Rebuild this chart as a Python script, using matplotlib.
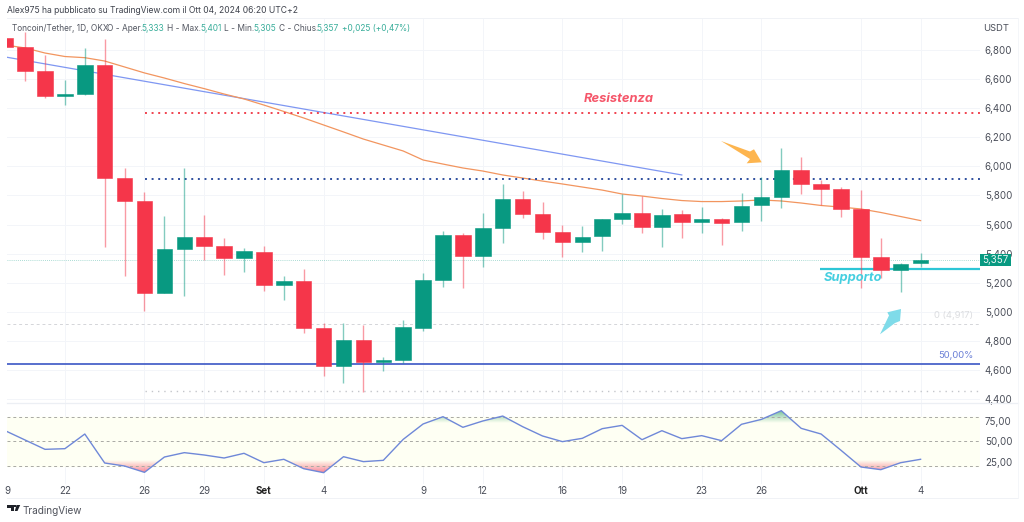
from matplotlib import pyplot as plt
from matplotlib.path import Path
from matplotlib.patches import Polygon, Rectangle
import numpy as np

plt.rcParams['font.family'] = ['Inter', 'DejaVu Sans']

# daily candles, index 0 = 19 Aug
opens = [6883, 6824, 6658, 6486, 6498, 6698, 5920, 5764, 5127, 5431, 5516, 5452, 5367, 5413, 5182, 5213,
         4886, 4626, 4805, 4654, 4665, 4890, 5216, 5526, 5383, 5578, 5773, 5670, 5548, 5480, 5519, 5638,
         5679, 5581, 5672, 5617, 5638, 5615, 5732, 5787, 5975, 5879, 5842, 5705, 5374, 5287, 5333]
highs = [6890, 6925, 6766, 6594, 6815, 6879, 5989, 5826, 5658, 5989, 5665, 5509, 5436, 5452, 5246, 5294,
         4920, 4920, 4908, 4686, 4943, 5264, 5557, 5544, 5681, 5879, 5833, 5753, 5597, 5590, 5640, 5810,
         5796, 5705, 5700, 5718, 5647, 5815, 5929, 6124, 6062, 5906, 5860, 5837, 5505, 5333, 5401]
lows = [6822, 6588, 6471, 6422, 6491, 5447, 5246, 5007, 5127, 5110, 5356, 5254, 5275, 5144, 5080, 4855,
        4559, 4511, 4445, 4590, 4645, 4867, 5168, 5161, 5310, 5475, 5643, 5502, 5374, 5409, 5418, 5603,
        5543, 5443, 5505, 5543, 5459, 5553, 5626, 5711, 5810, 5732, 5654, 5161, 5230, 5133, 5305]
closes = [6822, 6656, 6486, 6498, 6698, 5920, 5764, 5127, 5431, 5516, 5452, 5367, 5418, 5182, 5213, 4886,
          4626, 4805, 4656, 4668, 4893, 5216, 5526, 5383, 5578, 5773, 5670, 5548, 5482, 5516, 5636, 5679,
          5581, 5667, 5615, 5638, 5612, 5729, 5787, 5975, 5879, 5842, 5707, 5374, 5287, 5328, 5357]

ema = [6835, 6815, 6780, 6756, 6748, 6725, 6684, 6643, 6608, 6570, 6535, 6498, 6464, 6422, 6378, 6333,
       6285, 6237, 6188, 6147, 6106, 6044, 6016, 5989, 5968, 5941, 5920, 5899, 5879, 5858, 5837, 5810,
       5796, 5779, 5765, 5758, 5758, 5762, 5769, 5762, 5748, 5731, 5720, 5707, 5683, 5655, 5627]
trend_x = [0, 34]
trend_y = [6753, 5941]

rsi = [63.1, 51.6, 40.1, 40.9, 59, 23.2, 19.5, 11.7, 30.6, 36, 33.1, 29.4, 35.2, 23.6, 27.8, 16.2,
       11.3, 31, 24.9, 26.5, 52.4, 71.4, 80.4, 67.3, 75.1, 81.2, 68.1, 56.6, 49.6, 53.7, 65.6, 69.7,
       52, 63.1, 53.3, 57, 50.8, 71, 77.1, 87.8, 66, 59, 38.9, 18.3, 15, 23.6, 27.8]

resistance = 6367
blue_dotted = 5915
fib_50 = 4642
fib_0 = 4917
low_dotted = 4454
support = 5296
last_price = 5357

day_ticks = [0, 3, 7, 10, 13, 16, 21, 24, 28, 31, 35, 38, 43, 46]
day_labels = ['9', '22', '26', '29', 'Set', '4', '9', '12', '16', '19', '23', '26', 'Ott', '4']
price_ticks = [4400, 4600, 4800, 5000, 5200, 5400, 5600, 5800, 6000, 6200, 6400, 6600, 6800]
rsi_ticks = [25, 50, 75]

W, H = 1024, 522
GREEN = '#089981'
RED = '#f5364a'
TXT = '#4a4e59'
GRID = '#f3f5f9'


def px_to_i(px):
    return (px - 5.2) / 19.9


def pane(left, top, right, bottom):
    return [left / W, 1 - bottom / H, (right - left) / W, (bottom - top) / H]


fig = plt.figure(figsize=(W / 100, H / 100), dpi=100)
ax = fig.add_axes(pane(6.6, 18, 980, 403))
ax2 = fig.add_axes(pane(6.6, 403, 980, 484))
over = fig.add_axes([0, 0, 1, 1], zorder=10)
over.set_xlim(0, W)
over.set_ylim(H, 0)
over.axis('off')

x = np.arange(len(opens))
xlim = (px_to_i(6.6), px_to_i(980))

# price pane
for a in (ax, ax2):
    for s in a.spines.values():
        s.set_visible(False)
    a.yaxis.tick_right()
    a.set_xticks([])
    a.tick_params(axis='y', length=0, pad=3.5, labelsize=7, labelcolor=TXT)
    for d in day_ticks:
        a.axvline(d, color=GRID, lw=0.7, zorder=0)

for p in price_ticks:
    ax.axhline(p, color=GRID, lw=0.7, zorder=0)

x0 = px_to_i(145)
ax.plot(trend_x, trend_y, color='#7f97f2', lw=0.9, zorder=1)
ax.plot(x, ema, color='#f2955f', lw=0.9, zorder=1)
ax.hlines(resistance, x0, xlim[1], color='#f0424f', lw=1.4, linestyles=(0, (1, 2.4)), zorder=1)
ax.hlines(blue_dotted, x0, xlim[1], color='#2f4f9e', lw=1.4, linestyles=(0, (1, 2.4)), zorder=1)
ax.hlines(low_dotted, x0, xlim[1], color='#c4c6cb', lw=1.0, linestyles=(0, (1, 3.5)), zorder=1)
ax.hlines(fib_0, xlim[0], xlim[1], color='#d4d5d9', lw=0.7, linestyles=(0, (3, 3)), zorder=1)
ax.hlines(fib_50, xlim[0], xlim[1], color='#4a63c9', lw=1.3, zorder=1)
ax.hlines(support, px_to_i(820), xlim[1], color='#2cc6d6', lw=1.6, zorder=1)
ax.hlines(last_price, xlim[0], xlim[1], color=GREEN, alpha=0.45, lw=0.6, linestyles=(0, (1, 1.5)), zorder=1)

colors = [GREEN if c >= o else RED for o, c in zip(opens, closes)]
ax.vlines(x, lows, highs, colors=colors, alpha=0.5, lw=1.0, zorder=2)
body_low = np.minimum(opens, closes)
body_h = np.abs(np.array(closes) - np.array(opens))
ax.bar(x, body_h, bottom=body_low, width=0.78, color=colors, edgecolor=colors, lw=0.4, zorder=3)

ax.set_xlim(xlim)
ax.set_ylim(4372, 7021)
ax.set_yticks(price_ticks)
ax.set_yticklabels([f'{p / 1000:.3f}'.replace('.', ',') for p in price_ticks])

# rsi pane
ax2.axhspan(20, 80, color='#feFFf3', zorder=0)
for lev in (80, 50, 20):
    ax2.axhline(lev, color='#a9a9a4', lw=0.7, ls=(0, (3, 3)), zorder=2)


def gradient(level, rgb, v_from, v_to, where):
    # fades between v_from (clear) and v_to (strong), cut to the area between line and level
    poly = ax2.fill_between(x, rsi, level, where=where, interpolate=True, color='none', lw=0)
    clip = Path.make_compound_path(*poly.get_paths())
    ramp = np.zeros((64, 1, 4))
    ramp[..., :3] = rgb
    ramp[:, 0, 3] = np.linspace(0.65, 0, 64) if v_to > v_from else np.linspace(0, 0.65, 64)
    lo, hi = min(v_from, v_to), max(v_from, v_to)
    im = ax2.imshow(ramp, extent=(xlim[0], xlim[1], lo, hi), aspect='auto', origin='upper', zorder=1)
    im.set_clip_path(clip, transform=ax2.transData)


r = np.array(rsi)
gradient(27, (0.96, 0.25, 0.33), 27, 11, r < 27)
gradient(72, (0.15, 0.62, 0.35), 72, 88, r > 72)

ax2.plot(x, rsi, color='#6f88d8', lw=1.0, zorder=3)
ax2.set_xlim(xlim)
ax2.set_ylim(-2.7, 97.3)
ax2.set_yticks(rsi_ticks)
ax2.set_yticklabels([f'{t},00' for t in rsi_ticks])

# bottom dates
trans = ax2.get_xaxis_transform()
for d, lab in zip(day_ticks, day_labels):
    bold = lab in ('Set', 'Ott')
    xpos = 0.09 if d == 0 else d
    ax2.text(xpos, -0.085, lab, transform=trans, ha='center', va='center', fontsize=7,
             color='#222222' if bold else TXT, fontweight='bold' if bold else 'normal')

# pane frame lines
over.plot([6.6, 1018], [17.5, 17.5], color='#f0f2f6', lw=0.7)
over.plot([6.6, 1018], [402.8, 402.8], color='#eceff4', lw=0.9)
over.plot([6.6, 1018], [498, 498], color='#f0f2f6', lw=0.7)
over.plot([1018, 1018], [17.5, 498], color='#f4f6f9', lw=0.7)

# header
over.text(7, 10.3, 'Alex975 ha pubblicato su TradingView.com il Ott 04, 2024 06:20 UTC+2',
          fontsize=6.15, color='#3f434d', va='center')
head = [(12.5, 'Toncoin/Tether, 1D, OKX', TXT), (107, 'O - Aper.', TXT), (141.5, '5,333', GREEN),
        (167, 'H - Max.', TXT), (200.5, '5,401', GREEN), (224.5, 'L - Min.', TXT), (253.5, '5,305', GREEN),
        (279, 'C - Chius.', TXT), (316.7, '5,357', GREEN), (342.5, '+0,025 (+0,47%)', GREEN)]
for hx, s, c in head:
    over.text(hx, 28.3, s, fontsize=6.0, color=c, va='center', alpha=0.95 if c == TXT else 0.8)
over.text(1009, 28.5, 'USDT', fontsize=6.8, color=TXT, va='center', ha='right')

# drawings
over.text(619, 98.5, 'Resistenza', fontsize=9.3, color='#f5566a', style='italic', fontweight='bold',
          ha='center', va='center')
over.text(853, 278, 'Supporto', fontsize=9.3, color='#45cfe0', style='italic', fontweight='bold',
          ha='center', va='center')
over.text(973, 356, '50,00%', fontsize=6.8, color='#6a7fd6', ha='right', va='center')
over.text(973, 316, '0 (4,917)', fontsize=6.8, color='#dcdde0', ha='right', va='center')
over.add_patch(Polygon([(721, 141), (750, 151.5), (754, 149.3), (761.7, 162.3), (746.7, 163.3),
                        (750, 159)], closed=True, color='#fdb54f', lw=0))
over.add_patch(Polygon([(880, 334.3), (889, 315.5), (887.3, 312.3), (901, 309), (900, 321),
                        (895, 323)], closed=True, color='#7fdbe9', lw=0))

# last price tag
over.add_patch(Rectangle((980, 254), 31, 12.3, color=GREEN, lw=0))
over.text(995.5, 260.2, '5,357', fontsize=7, color='#e8f5f2', ha='center', va='center')

# logo
for pts in ([(7, 505), (14, 505), (14, 511), (10.5, 511), (10.5, 507.5), (7, 507.5)],
            [(16.5, 505), (20.2, 505), (17.5, 511), (14.8, 511)]):
    over.add_patch(Polygon(pts, closed=True, color='#1f2229', lw=0))
over.add_patch(Rectangle((14.3, 505), 1.6, 1.6, color='#1f2229', lw=0))
over.text(22.5, 510.7, 'TradingView', fontsize=7.2, color='#50535c', va='center')

fig.savefig('out.png', dpi=100)
